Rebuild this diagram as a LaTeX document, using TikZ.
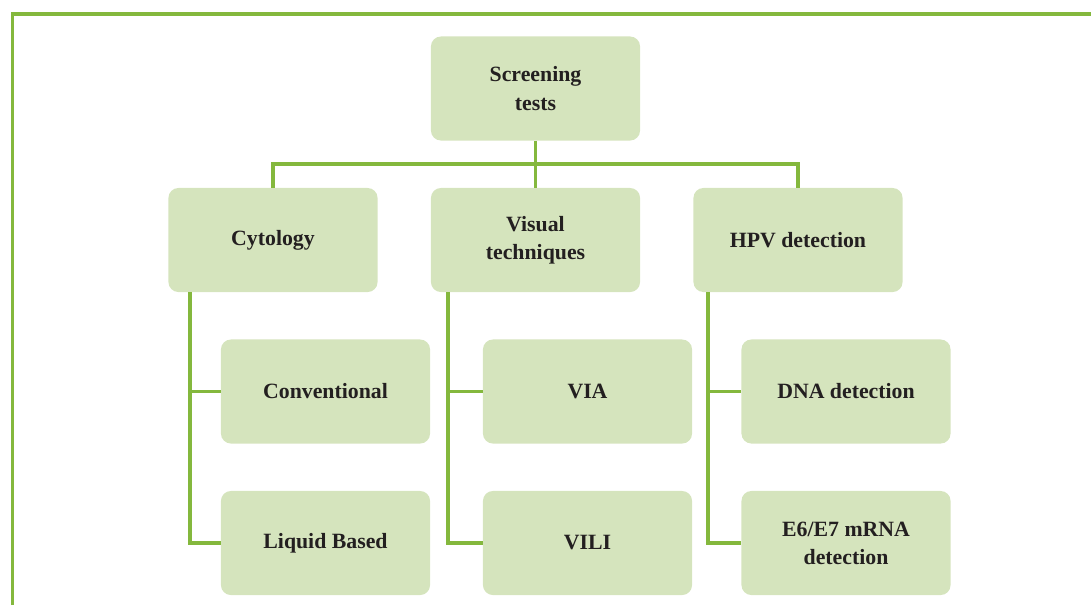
\documentclass[tikz,border=0pt]{standalone}
\usepackage{fontspec}
\setmainfont{Liberation Serif}
\usetikzlibrary{positioning}
\definecolor{leafgreen}{HTML}{84B83D}
\definecolor{palegreen}{HTML}{D5E4BD}
\definecolor{inkdark}{HTML}{231F20}

\begin{document}
\begin{tikzpicture}[x=0.025cm, y=-0.025cm,
    testbox/.style={
      fill=palegreen, rounded corners=7pt,
      minimum width=5.225cm, minimum height=2.6cm,
      align=center, inner sep=0pt, text=inkdark,
      font=\fontsize{15.5}{20}\selectfont\bfseries
    },
    link/.style={draw=leafgreen, line width=2.2pt}]
  \useasboundingbox (0,0) rectangle (1091,605);
  % outer frame (open to the right and bottom)
  \draw[leafgreen, line width=2.2pt] (12.5,605) |- (1091,14);

  % top level
  \node[testbox] (screen) at (535.5,88.5) {Screening\\tests};
  \node[testbox] (cyto)   at (273,240)    {Cytology};
  \node[testbox] (visual) at (535.5,240)  {Visual\\techniques};
  \node[testbox] (hpv)    at (798,240)    {HPV detection};

  % second level
  \node[testbox] (conv)   at (325.5,391.5) {Conventional};
  \node[testbox] (liquid) at (325.5,543)   {Liquid Based};
  \node[testbox] (via)    at (587.5,391.5) {VIA};
  \node[testbox] (vili)   at (587.5,543)   {VILI};
  \node[testbox] (dna)    at (846,391.5)   {DNA detection};
  \node[testbox] (mrna)   at (846,543)     {E6/E7 mRNA\\detection};

  % connectors
  \coordinate (bus) at (535.5,164);
  \draw[link] (screen.south) -- (visual.north);
  \draw[link] (cyto.north) |- (bus) -| (hpv.north);

  \coordinate (cytospine) at (190,292);
  \coordinate (visspine)  at (448,292);
  \coordinate (hpvspine)  at (708,292);
  \draw[link] (cytospine) |- (liquid.west);
  \draw[link] (conv.west) -- (conv.west -| cytospine);
  \draw[link] (visspine) |- (vili.west);
  \draw[link] (via.west) -- (via.west -| visspine);
  \draw[link] (hpvspine) |- (mrna.west);
  \draw[link] (dna.west) -- (dna.west -| hpvspine);
\end{tikzpicture}
\end{document}
